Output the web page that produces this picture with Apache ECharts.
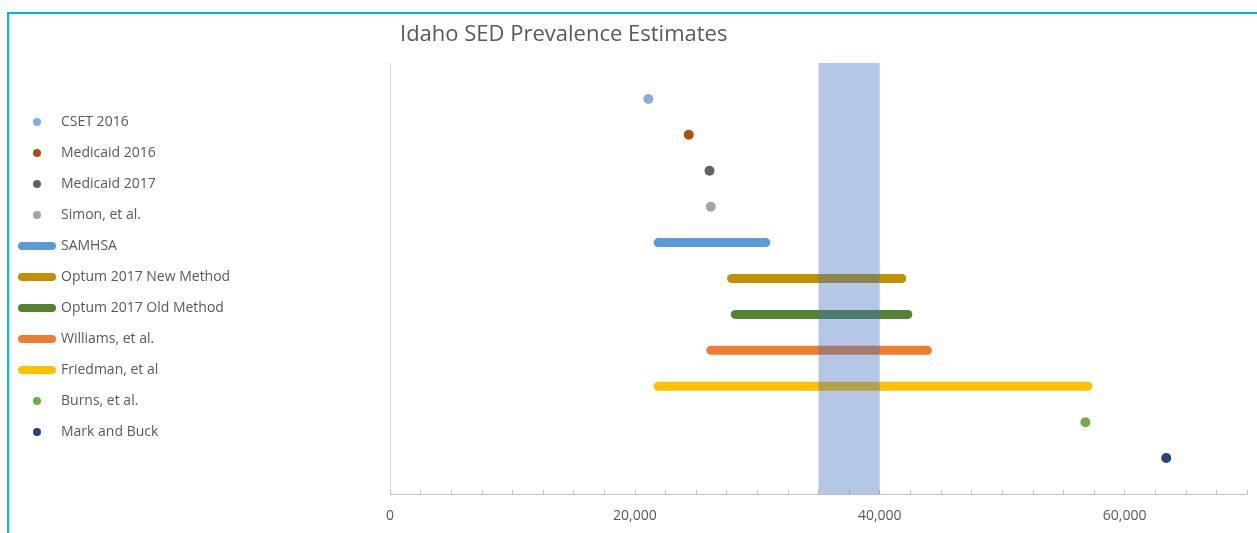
<!DOCTYPE html>
<html>
<head>
<meta charset="utf-8">
<script src="https://cdn.jsdelivr.net/npm/echarts@6/dist/echarts.min.js"></script>
<style>
  html, body { margin: 0; padding: 0; background: #fff; }
  #wrap { position: relative; width: 1257px; height: 533px; }
  #chart { width: 1257px; height: 533px; }
  #frame {
    position: absolute; left: 7px; top: 12px; right: 0; bottom: 0;
    border-top: 2px solid #00B0F0; border-left: 2px solid #00B0F0;
    pointer-events: none;
  }
</style>
</head>
<body>
<div id="wrap">
  <div id="chart"></div>
  <div id="frame"></div>
</div>
<script>
// estimates, one row per source (top to bottom)
const names = ['CSET 2016', 'Medicaid 2016', 'Medicaid 2017', 'Simon, et al.', 'SAMHSA',
  'Optum 2017 New Method', 'Optum 2017 Old Method', 'Williams, et al.', 'Friedman, et al',
  'Burns, et al.', 'Mark and Buck'];
const rowY = [11, 10, 9, 8, 7, 6, 5, 4, 3, 2, 1];
const lowValues = [21100, 24400, 26100, 26200, 21900, 27900, 28200, 26200, 21900, 56800, 63400];
const highValues = [null, null, null, null, 30700, 41800, 42300, 43900, 57000, null, null];
const colors = ['#8FAADC', '#B04E12', '#636363', '#A5A5A5', '#5B9BD5', '#BF9000', '#548235',
  '#ED7D31', '#FFC000', '#70AD47', '#264478'];
const bandRange = [35000, 40000];
const xLabelStep = 20000;

const chart = echarts.init(document.getElementById('chart'));
const font = '"Open Sans", sans-serif';
const lineIcon = 'path://M4,0H34A4,4,0,0,1,34,8H4A4,4,0,0,1,4,0Z';

const series = [];
const legendData = [];
names.forEach(function (name, i) {
  if (highValues[i] == null) {
    series.push({
      name: name,
      type: 'scatter',
      symbolSize: 10,
      itemStyle: { color: colors[i], opacity: 1 },
      data: [[lowValues[i], rowY[i]]],
      z: 2
    });
    legendData.push({ name: name, icon: 'circle' });
  } else {
    series.push({
      name: name,
      type: 'line',
      symbol: 'none',
      itemStyle: { color: colors[i] },
      lineStyle: { color: colors[i], width: 9, cap: 'round' },
      data: [[lowValues[i], rowY[i]], [highValues[i], rowY[i]]],
      z: 2
    });
    legendData.push({ name: name, icon: lineIcon });
  }
});

// shaded band, drawn over the lines
series.push({
  name: 'band',
  type: 'line',
  data: [],
  z: 10,
  markArea: {
    silent: true,
    z: 10,
    itemStyle: { color: '#4472C4', opacity: 0.4, borderWidth: 0 },
    data: [[{ xAxis: bandRange[0] }, { xAxis: bandRange[1] }]]
  }
});

chart.setOption({
  animation: false,
  textStyle: { fontFamily: font },
  title: {
    text: 'Idaho SED Prevalence Estimates',
    left: 400,
    top: 24,
    padding: 0,
    textStyle: { fontFamily: font, fontSize: 22, fontWeight: 'normal', color: '#595959' }
  },
  legend: {
    orient: 'vertical',
    left: 18,
    top: 113,
    itemWidth: 38,
    itemHeight: 8,
    itemGap: 13,
    padding: 0,
    data: legendData,
    selectedMode: false,
    textStyle: { fontFamily: font, fontSize: 14, color: '#595959', lineHeight: 18 }
  },
  grid: { left: 390, right: 10, top: 63, bottom: 39, containLabel: false },
  xAxis: {
    type: 'value',
    min: 0,
    max: 70000,
    interval: 2500,
    axisLine: { lineStyle: { color: '#BFBFBF' } },
    axisTick: { show: true, inside: true, length: 4, lineStyle: { color: '#BFBFBF' } },
    splitLine: { show: false },
    axisLabel: {
      margin: 15,
      fontSize: 14,
      color: '#595959',
      fontFamily: font,
      formatter: function (v) {
        return v % xLabelStep === 0 ? v.toLocaleString('en-US') : '';
      }
    }
  },
  yAxis: {
    type: 'value',
    min: 0,
    max: 12,
    axisLine: { show: true, lineStyle: { color: '#D9D9D9' } },
    axisTick: { show: false },
    axisLabel: { show: false },
    splitLine: { show: false }
  },
  series: series
});
</script>
</body>
</html>
